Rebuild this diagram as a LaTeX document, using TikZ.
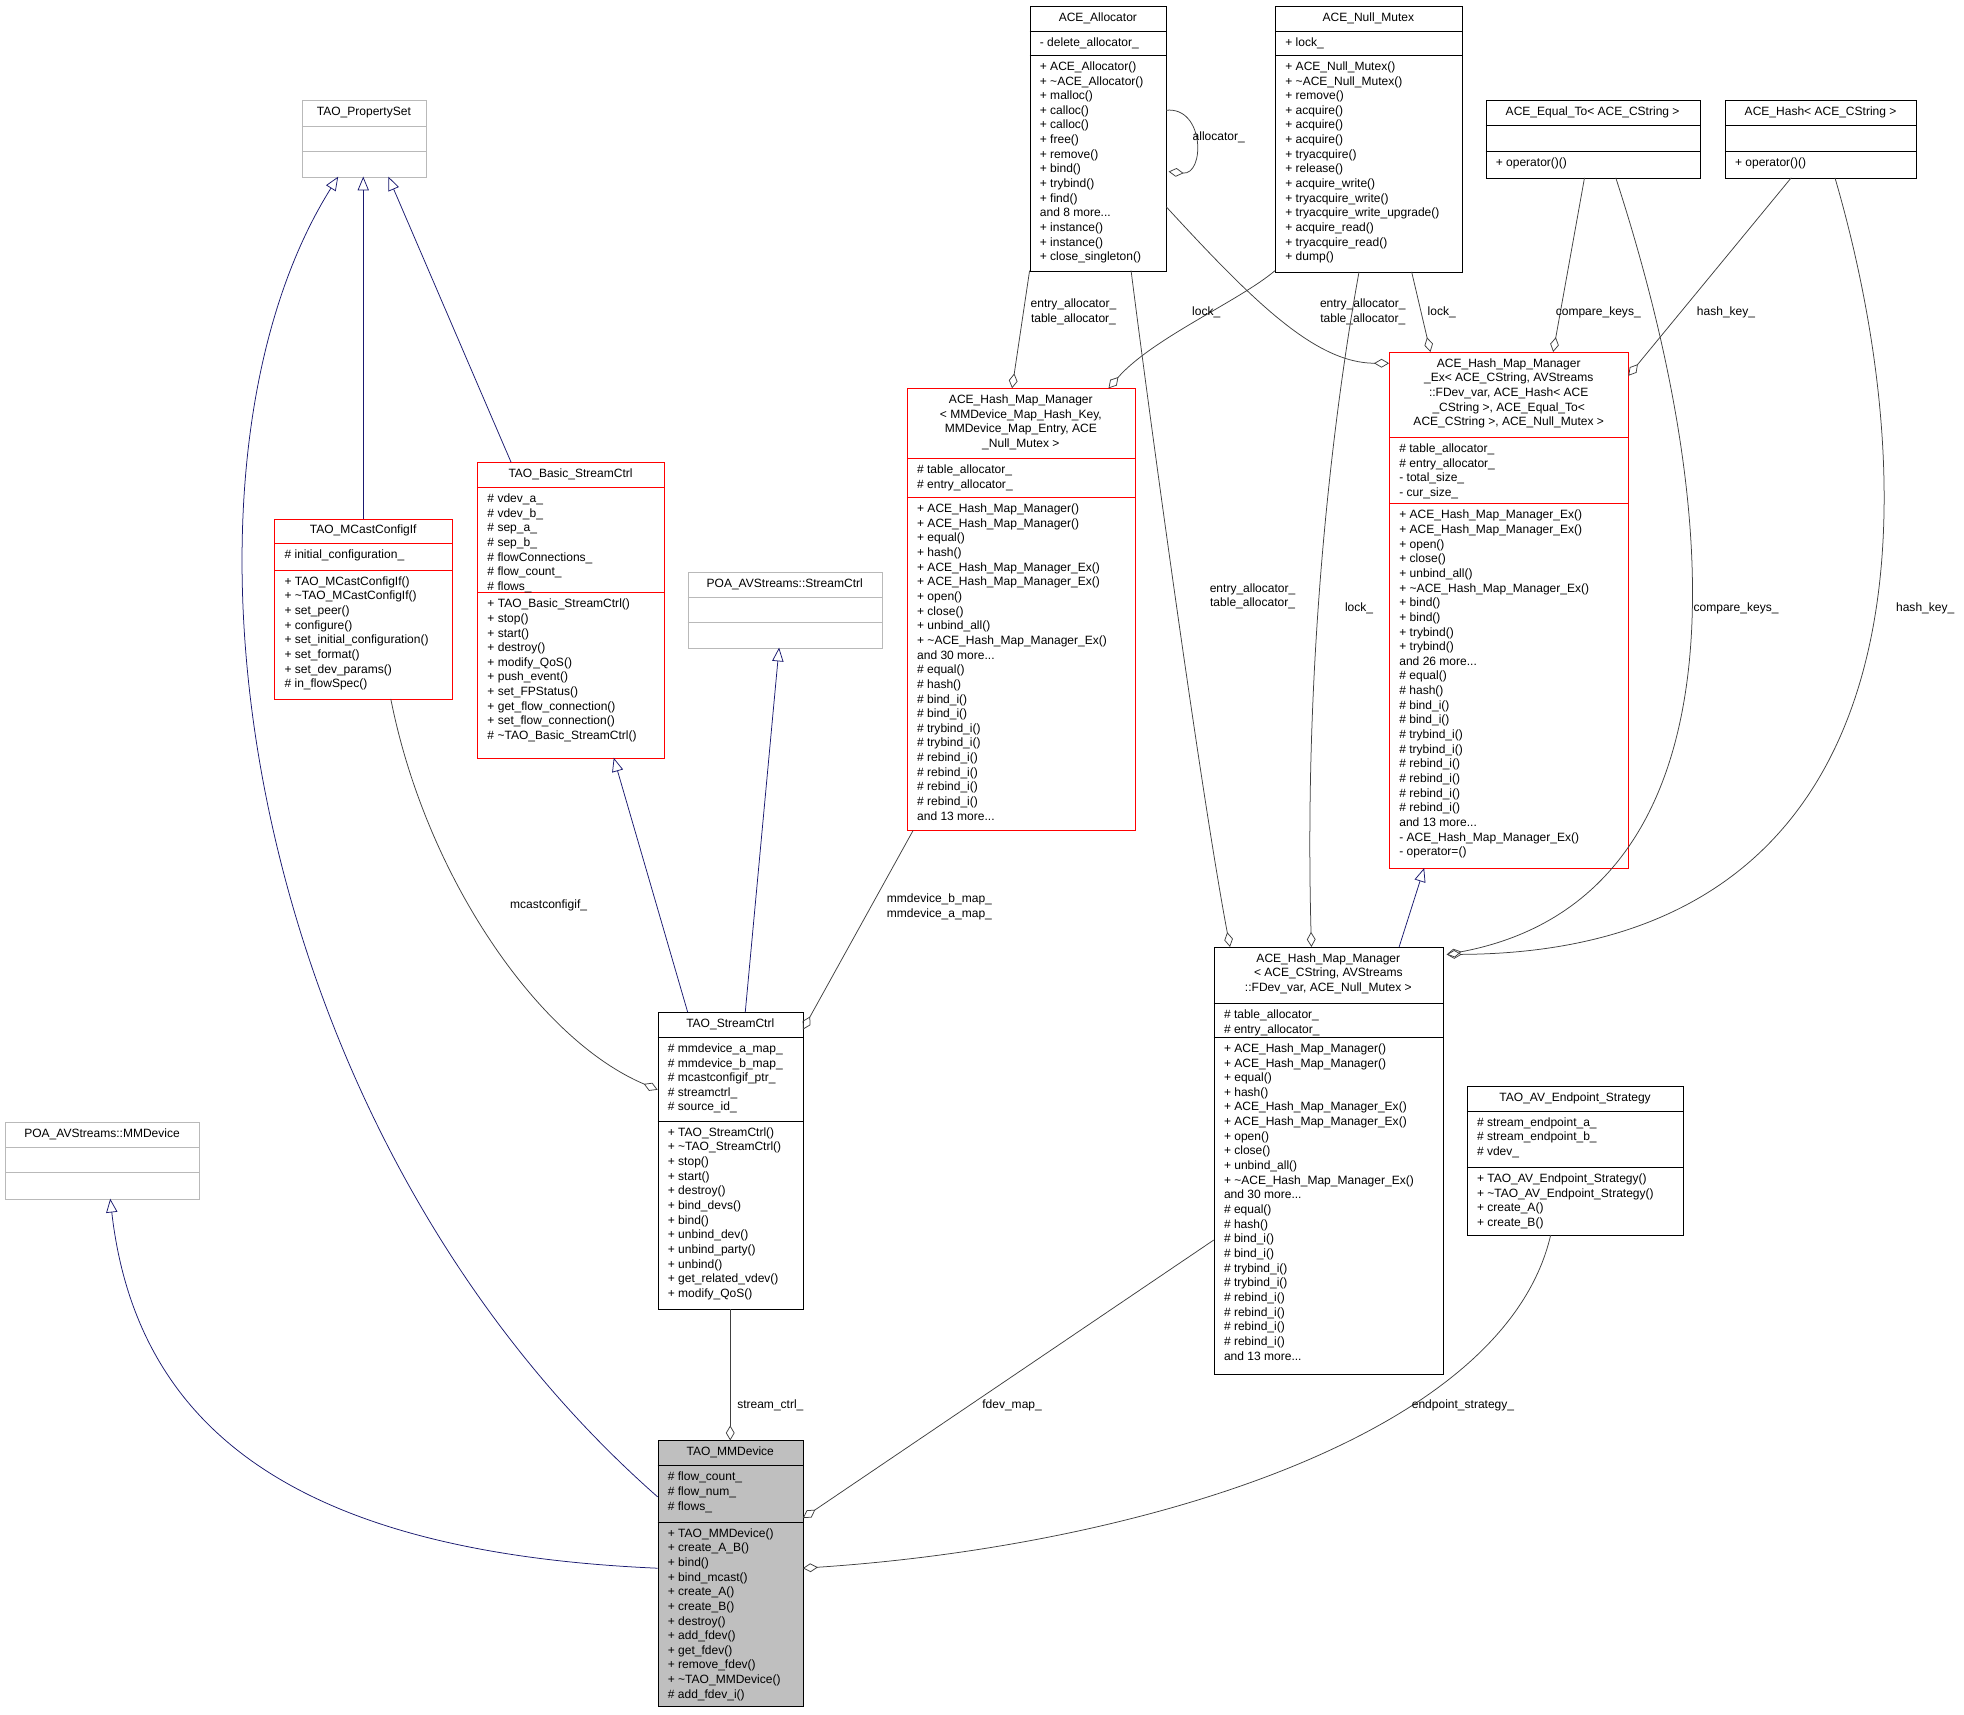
\documentclass[tikz,border=0pt]{standalone}
\usepackage{fontspec}
\setmainfont{Liberation Sans}
\usetikzlibrary{arrows.meta}
\definecolor{navy}{HTML}{191970}
\definecolor{edge}{HTML}{404040}
\tikzset{
  txt/.style={inner sep=0pt,font=\fontsize{9.6}{11.7}\selectfont},
  plain/.style={draw=black},
  grayb/.style={draw=gray!55},
  redb/.style={draw=red},
  mainb/.style={draw=black,fill=gray!50},
  inh/.style={navy,line width=0.6pt,-{Triangle[open,length=11pt,width=9pt]}},
  comp/.style={edge,line width=0.6pt,{Diamond[open,length=12pt,width=7pt]}-},
  lab/.style={txt,align=center}
}
\newcommand\cbox[8]{\def\cbN{#1}\def\cbXa{#2}\def\cbYa{#3}\def\cbXb{#4}\def\cbYs{#5}\def\cbYt{#6}\def\cbYb{#7}\def\cbS{#8}\cboxcont}
\newcommand\cboxcont[3]{%
  \node[\cbS,line width=0.6pt,inner sep=0pt,anchor=north west,minimum width={(\cbXb-\cbXa)*1pt},minimum height={(\cbYb-\cbYa)*1pt}] (\cbN) at (\cbXa,\cbYa) {};
  \draw[\cbS,line width=0.6pt] (\cbXa,\cbYs) -- (\cbXb,\cbYs);
  \draw[\cbS,line width=0.6pt] (\cbXa,\cbYt) -- (\cbXb,\cbYt);
  \node[txt,anchor=north,align=center] at ({(\cbXa+\cbXb)/2},{\cbYa+5}) {#1};
  \node[txt,anchor=north west,align=left] at ({\cbXa+8},{\cbYs+5}) {#2};
  \node[txt,anchor=north west,align=left] at ({\cbXa+8},{\cbYt+5}) {#3};
}
\newcommand\tl{\textasciitilde}
\begin{document}
\begin{tikzpicture}[x=1pt,y=-1pt]
\useasboundingbox[fill=white] (0,0) rectangle (1568,1369);

\cbox{ps}{241}{80}{340}{101}{121}{141}{grayb}{TAO\_PropertySet}{}{}
\cbox{poamm}{4}{896}{159}{916}{936}{957}{grayb}{POA\_AVStreams::MMDevice}{}{}
\cbox{poasc}{549}{457}{704}{477}{497}{517}{grayb}{POA\_AVStreams::StreamCtrl}{}{}
\cbox{mc}{219}{414}{361}{434}{455}{558}{redb}{TAO\_MCastConfigIf}{\# initial\_configuration\_}{+ TAO\_MCastConfigIf()\\+ \tl TAO\_MCastConfigIf()\\+ set\_peer()\\+ configure()\\+ set\_initial\_configuration()\\+ set\_format()\\+ set\_dev\_params()\\\# in\_flowSpec()}
\cbox{bsc}{381}{369}{530}{389}{473}{605}{redb}{TAO\_Basic\_StreamCtrl}{\# vdev\_a\_\\\# vdev\_b\_\\\# sep\_a\_\\\# sep\_b\_\\\# flowConnections\_\\\# flow\_count\_\\\# flows\_}{+ TAO\_Basic\_StreamCtrl()\\+ stop()\\+ start()\\+ destroy()\\+ modify\_QoS()\\+ push\_event()\\+ set\_FPStatus()\\+ get\_flow\_connection()\\+ set\_flow\_connection()\\\# \tl TAO\_Basic\_StreamCtrl()}
\cbox{sc}{525}{808}{641}{828}{895}{1045}{plain}{TAO\_StreamCtrl}{\# mmdevice\_a\_map\_\\\# mmdevice\_b\_map\_\\\# mcastconfigif\_ptr\_\\\# streamctrl\_\\\# source\_id\_}{+ TAO\_StreamCtrl()\\+ \tl TAO\_StreamCtrl()\\+ stop()\\+ start()\\+ destroy()\\+ bind\_devs()\\+ bind()\\+ unbind\_dev()\\+ unbind\_party()\\+ unbind()\\+ get\_related\_vdev()\\+ modify\_QoS()}
\cbox{mm}{525}{1150}{641}{1170}{1215}{1362}{mainb}{TAO\_MMDevice}{\# flow\_count\_\\\# flow\_num\_\\\# flows\_}{+ TAO\_MMDevice()\\+ create\_A\_B()\\+ bind()\\+ bind\_mcast()\\+ create\_A()\\+ create\_B()\\+ destroy()\\+ add\_fdev()\\+ get\_fdev()\\+ remove\_fdev()\\+ \tl TAO\_MMDevice()\\\# add\_fdev\_i()}
\cbox{alloc}{822}{5}{931}{25}{44}{216}{plain}{ACE\_Allocator}{- delete\_allocator\_}{+ ACE\_Allocator()\\+ \tl ACE\_Allocator()\\+ malloc()\\+ calloc()\\+ calloc()\\+ free()\\+ remove()\\+ bind()\\+ trybind()\\+ find()\\and 8 more...\\+ instance()\\+ instance()\\+ close\_singleton()}
\cbox{mutex}{1018}{5}{1167}{25}{44}{217}{plain}{ACE\_Null\_Mutex}{+ lock\_}{+ ACE\_Null\_Mutex()\\+ \tl ACE\_Null\_Mutex()\\+ remove()\\+ acquire()\\+ acquire()\\+ acquire()\\+ tryacquire()\\+ release()\\+ acquire\_write()\\+ tryacquire\_write()\\+ tryacquire\_write\_upgrade()\\+ acquire\_read()\\+ tryacquire\_read()\\+ dump()}
\cbox{eq}{1186}{80}{1357}{100}{121}{142}{plain}{ACE\_Equal\_To< ACE\_CString >}{}{+ operator()()}
\cbox{hash}{1377}{80}{1530}{100}{121}{142}{plain}{ACE\_Hash< ACE\_CString >}{}{+ operator()()}
\cbox{hmd}{724}{310}{906}{366}{397}{663}{redb}{ACE\_Hash\_Map\_Manager\\< MMDevice\_Map\_Hash\_Key,\\ MMDevice\_Map\_Entry, ACE\\\_Null\_Mutex >}{\# table\_allocator\_\\\# entry\_allocator\_}{+ ACE\_Hash\_Map\_Manager()\\+ ACE\_Hash\_Map\_Manager()\\+ equal()\\+ hash()\\+ ACE\_Hash\_Map\_Manager\_Ex()\\+ ACE\_Hash\_Map\_Manager\_Ex()\\+ open()\\+ close()\\+ unbind\_all()\\+ \tl ACE\_Hash\_Map\_Manager\_Ex()\\and 30 more...\\\# equal()\\\# hash()\\\# bind\_i()\\\# bind\_i()\\\# trybind\_i()\\\# trybind\_i()\\\# rebind\_i()\\\# rebind\_i()\\\# rebind\_i()\\\# rebind\_i()\\and 13 more...}
\cbox{hex}{1109}{281}{1300}{349}{402}{693}{redb}{ACE\_Hash\_Map\_Manager\\\_Ex< ACE\_CString, AVStreams\\::FDev\_var, ACE\_Hash< ACE\\\_CString >, ACE\_Equal\_To<\\ ACE\_CString >, ACE\_Null\_Mutex >}{\# table\_allocator\_\\\# entry\_allocator\_\\- total\_size\_\\- cur\_size\_}{+ ACE\_Hash\_Map\_Manager\_Ex()\\+ ACE\_Hash\_Map\_Manager\_Ex()\\+ open()\\+ close()\\+ unbind\_all()\\+ \tl ACE\_Hash\_Map\_Manager\_Ex()\\+ bind()\\+ bind()\\+ trybind()\\+ trybind()\\and 26 more...\\\# equal()\\\# hash()\\\# bind\_i()\\\# bind\_i()\\\# trybind\_i()\\\# trybind\_i()\\\# rebind\_i()\\\# rebind\_i()\\\# rebind\_i()\\\# rebind\_i()\\and 13 more...\\- ACE\_Hash\_Map\_Manager\_Ex()\\- operator=()}
\cbox{hcs}{969}{756}{1152}{801}{828}{1097}{plain}{ACE\_Hash\_Map\_Manager\\< ACE\_CString, AVStreams\\::FDev\_var, ACE\_Null\_Mutex >}{\# table\_allocator\_\\\# entry\_allocator\_}{+ ACE\_Hash\_Map\_Manager()\\+ ACE\_Hash\_Map\_Manager()\\+ equal()\\+ hash()\\+ ACE\_Hash\_Map\_Manager\_Ex()\\+ ACE\_Hash\_Map\_Manager\_Ex()\\+ open()\\+ close()\\+ unbind\_all()\\+ \tl ACE\_Hash\_Map\_Manager\_Ex()\\and 30 more...\\\# equal()\\\# hash()\\\# bind\_i()\\\# bind\_i()\\\# trybind\_i()\\\# trybind\_i()\\\# rebind\_i()\\\# rebind\_i()\\\# rebind\_i()\\\# rebind\_i()\\and 13 more...}
\cbox{eps}{1171}{867}{1344}{887}{932}{986}{plain}{TAO\_AV\_Endpoint\_Strategy}{\# stream\_endpoint\_a\_\\\# stream\_endpoint\_b\_\\\# vdev\_}{+ TAO\_AV\_Endpoint\_Strategy()\\+ \tl TAO\_AV\_Endpoint\_Strategy()\\+ create\_A()\\+ create\_B()}

% inheritance
\draw[inh] (525,1195) .. controls (190,900) and (120,380) .. (270,141);
\draw[inh] (525,1252) .. controls (250,1240) and (110,1150) .. (88,957);
\draw[inh] (290,414) -- (290,141);
\draw[inh] (408,369) -- (310,141);
\draw[inh] (549,808) -- (490,605);
\draw[inh] (595,808) -- (622,517);
\draw[inh] (1117,756) -- (1137,693);

% composition
\draw[comp] (583,1150) -- (583,1045);
\node[lab] at (615,1122) {stream\_ctrl\_};
\draw[comp] (641,1212) -- (969,990);
\node[lab] at (808,1122) {fdev\_map\_};
\draw[comp] (641,1252) .. controls (900,1235) and (1200,1150) .. (1238,986);
\node[lab] at (1168,1122) {endpoint\_strategy\_};
\draw[comp] (525,870) .. controls (430,830) and (340,700) .. (312,558);
\node[lab] at (438,723) {mcastconfigif\_};
\draw[comp] (641,822) -- (729,663);
\node[lab] at (750,724) {mmdevice\_b\_map\_\\mmdevice\_a\_map\_};
\draw[comp] (808,310) -- (822,216);
\node[lab] at (857,249) {entry\_allocator\_\\table\_allocator\_};
\draw[comp] (885,310) .. controls (920,270) and (990,240) .. (1018,216);
\node[lab] at (963,249) {lock\_};
\draw[comp] (933,137) .. controls (962,140) and (962,85) .. (931,88);
\node[lab] at (973,110) {allocator\_};
\draw[comp] (1109,290) .. controls (1050,290) and (1000,240) .. (931,165);
\node[lab] at (1088,249) {entry\_allocator\_\\table\_allocator\_};
\draw[comp] (1142,281) -- (1127,217);
\node[lab] at (1151,249) {lock\_};
\draw[comp] (1240,281) -- (1265,142);
\node[lab] at (1276,249) {compare\_keys\_};
\draw[comp] (1300,300) -- (1430,142);
\node[lab] at (1378,249) {hash\_key\_};
\draw[comp] (982,756) .. controls (960,640) and (920,350) .. (903,216);
\node[lab] at (1000,476) {entry\_allocator\_\\table\_allocator\_};
\draw[comp] (1047,756) .. controls (1040,500) and (1070,300) .. (1085,217);
\node[lab] at (1085,486) {lock\_};
\draw[comp] (1155,762) .. controls (1380,720) and (1390,450) .. (1290,142);
\node[lab] at (1386,486) {compare\_keys\_};
\draw[comp] (1155,762) .. controls (1540,760) and (1540,400) .. (1465,142);
\node[lab] at (1537,486) {hash\_key\_};
\end{tikzpicture}
\end{document}
